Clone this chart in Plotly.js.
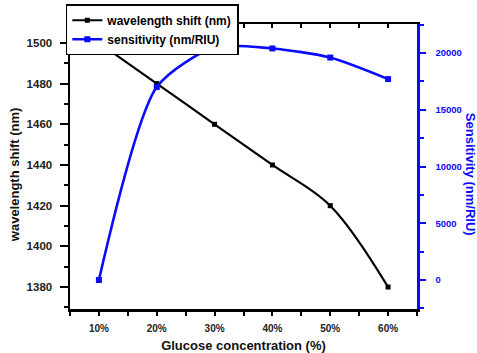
<!DOCTYPE html>
<html><head><meta charset="utf-8">
<script src="https://cdn.plot.ly/plotly-3.0.1.min.js"></script>
<style>html,body{margin:0;padding:0;background:#fff}#c{width:477px;height:353px}</style>
</head><body><div id="c"></div>
<script>
const concentration = [10, 20, 30, 40, 50, 60];
const wavelengthShift = [1500, 1480, 1460, 1440, 1420, 1380];
const sensitivity = [0, 17000, 20500, 20400, 19600, 17700];
const xTickVals = [10, 20, 30, 40, 50, 60];
const xTickText = ['10%', '20%', '30%', '40%', '50%', '60%'];
const leftTicks = [1380, 1400, 1420, 1440, 1460, 1480, 1500];
const rightTicks = [0, 5000, 10000, 15000, 20000];
const rightTickText = ['0', '5000', '10000', '15000', '20000'];

const F = 'Arial, "Liberation Sans", sans-serif';
const BLUE = '#0a0aff';

const traces = [
  {x: concentration, y: wavelengthShift, name: 'wavelength shift (nm)', type: 'scatter', mode: 'lines+markers',
   line: {color: '#000', width: 2.2, shape: 'spline', smoothing: 1}, marker: {symbol: 'square', size: 5, color: '#000'}},
  {x: concentration, y: sensitivity, name: 'sensitivity (nm/RIU)', type: 'scatter', mode: 'lines+markers', yaxis: 'y2',
   line: {color: BLUE, width: 2.6, shape: 'spline', smoothing: 0.7}, marker: {symbol: 'square', size: 6, color: BLUE}},
  {x: [], y: [], xaxis: 'x2', showlegend: false, hoverinfo: 'skip'}
];

const layout = {
  width: 477, height: 353,
  margin: {l: 70, r: 60, t: 24, b: 44, autoexpand: false},
  paper_bgcolor: '#fff', plot_bgcolor: '#fff',
  font: {family: F, color: '#000'},
  showlegend: true,
  legend: {xref: 'container', yref: 'container', x: 0.138, y: 0.988, xanchor: 'left', yanchor: 'top', bgcolor: '#fff', bordercolor: '#000', borderwidth: 1.5,
           font: {family: F, size: 12, weight: 'bold', color: '#000'}, tracegroupgap: 0},
  xaxis: {range: [5, 65], tickvals: xTickVals, ticktext: xTickText, ticks: 'outside', ticklen: 4, tickwidth: 2, tickcolor: '#000',
          ticklabelstandoff: 4,
          showline: true, linewidth: 2.5, linecolor: '#000', showgrid: false, zeroline: false,
          minor: {tickvals: [5, 15, 25, 35, 45, 55, 65], ticks: 'outside', ticklen: 4, tickwidth: 2, tickcolor: '#000'},
          tickfont: {family: F, size: 10, weight: 'bold', color: '#222'},
          title: {text: 'Glucose concentration (%)', font: {family: F, size: 13, weight: 'bold', color: '#111'}, standoff: 12}},
  xaxis2: {overlaying: 'x', side: 'top', range: [5, 65], tickvals: xTickVals, ticks: 'inside', ticklen: 4, tickwidth: 2, tickcolor: '#000',
           showticklabels: false, showline: true, linewidth: 2, linecolor: '#000', showgrid: false, zeroline: false,
           minor: {tickvals: [15, 25, 35, 45, 55], ticks: 'inside', ticklen: 4, tickwidth: 2, tickcolor: '#000'}},
  yaxis: {range: [1369.2, 1509.3], tickvals: leftTicks, ticks: 'outside', ticklen: 8, tickwidth: 2, tickcolor: '#000',
          ticklabelstandoff: 5,
          showline: true, linewidth: 2.5, linecolor: '#000', showgrid: false, zeroline: false,
          minor: {tickvals: [1370, 1390, 1410, 1430, 1450, 1470, 1490], ticks: 'outside', ticklen: 4, tickwidth: 2, tickcolor: '#000'},
          tickfont: {family: F, size: 11.5, weight: 'bold', color: '#222'}},
  yaxis2: {overlaying: 'y', side: 'right', range: [-2555, 22555], tickvals: rightTicks, ticktext: rightTickText, ticks: 'outside', ticklen: 6, tickwidth: 2, tickcolor: BLUE,
           ticklabelstandoff: 8,
           showline: true, linewidth: 2.5, linecolor: BLUE, showgrid: false, zeroline: false,
           minor: {tickvals: [-2500, 2500, 7500, 12500, 17500, 22500], ticks: 'outside', ticklen: 4, tickwidth: 2, tickcolor: BLUE},
           tickfont: {family: F, size: 9.5, weight: 'bold', color: BLUE}},
  annotations: [
    {text: 'wavelength shift (nm)', xref: 'paper', yref: 'paper', x: -0.161, y: 0.47, xanchor: 'center', yanchor: 'middle',
     textangle: -90, showarrow: false, font: {family: F, size: 13, weight: 'bold', color: '#111'}},
    {text: 'Sensitivity (nm/RIU)', xref: 'paper', yref: 'paper', x: 1.153, y: 0.474, xanchor: 'center', yanchor: 'middle',
     textangle: 90, showarrow: false, font: {family: F, size: 13, weight: 'bold', color: BLUE}}
  ]
};

Plotly.newPlot('c', traces, layout, {displayModeBar: false, staticPlot: true});
</script>
</body></html>
